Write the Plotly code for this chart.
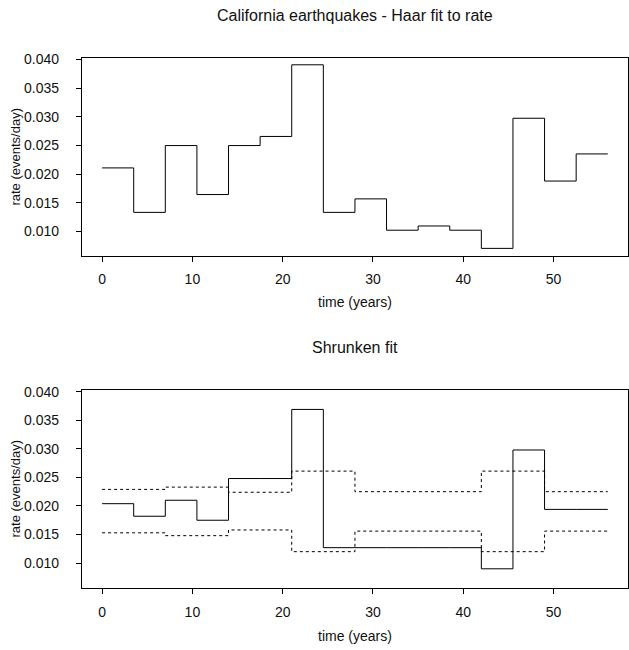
import plotly.graph_objects as go

# ---- data ----
breaks = [0, 3.5, 7, 10.5, 14, 17.5, 21, 24.5, 28, 31.5, 35, 38.5, 42, 45.5, 49, 52.5, 56]
haar_rate = [0.0211, 0.01335, 0.0250, 0.01646, 0.0250, 0.02659, 0.03908, 0.01335,
             0.0157, 0.01024, 0.01098, 0.01024, 0.00707, 0.02976, 0.01881, 0.02354]
shrunk_rate = [0.0204, 0.0182, 0.0210, 0.0175, 0.0248, 0.0248, 0.0369, 0.0127,
               0.0127, 0.0127, 0.0127, 0.0127, 0.0090, 0.0298, 0.0194, 0.0194]
upper_band = [0.0229, 0.0229, 0.0233, 0.0233, 0.0224, 0.0224, 0.0261, 0.0261,
              0.0225, 0.0225, 0.0225, 0.0225, 0.0261, 0.0261, 0.0225, 0.0225]
lower_band = [0.0153, 0.0153, 0.0148, 0.0148, 0.0158, 0.0158, 0.0120, 0.0120,
              0.0156, 0.0156, 0.0156, 0.0156, 0.0120, 0.0120, 0.0156, 0.0156]
x_ticks = [0, 10, 20, 30, 40, 50]
y_ticks = [0.010, 0.015, 0.020, 0.025, 0.030, 0.035, 0.040]
y_tick_text = ["0.010", "0.015", "0.020", "0.025", "0.030", "0.035", "0.040"]


def step(vals):
    return vals + [vals[-1]]


FONT = "Liberation Sans, Arial, Helvetica, sans-serif"
W, H = 629, 650

fig = go.Figure()
fig.add_trace(go.Scatter(x=breaks, y=step(haar_rate), mode="lines", line_shape="hv",
                         line=dict(color="black", width=1), xaxis="x", yaxis="y",
                         showlegend=False, hoverinfo="skip"))
fig.add_trace(go.Scatter(x=breaks, y=step(shrunk_rate), mode="lines", line_shape="hv",
                         line=dict(color="black", width=1), xaxis="x2", yaxis="y2",
                         showlegend=False, hoverinfo="skip"))
for band in (upper_band, lower_band):
    fig.add_trace(go.Scatter(x=breaks, y=step(band), mode="lines", line_shape="hv",
                             line=dict(color="black", width=1, dash="dot"), xaxis="x2", yaxis="y2",
                             showlegend=False, hoverinfo="skip"))

axis_common = dict(showline=True, linecolor="black", linewidth=1, mirror=True,
                   ticks="outside", ticklen=5, tickwidth=1, tickcolor="black",
                   showgrid=False, zeroline=False,
                   tickfont=dict(family=FONT, size=14, color="#111"))

x0 = 82 / W
d1 = [1 - 252 / H, 1 - 52 / H]
d2 = [1 - 587.3 / H, 1 - 387.3 / H]

fig.update_layout(
    width=W, height=H,
    margin=dict(l=0, r=0, t=0, b=0),
    paper_bgcolor="white", plot_bgcolor="white",
    xaxis=dict(domain=[x0, 1.0], range=[-2.24, 58.24], tickvals=x_ticks,
               anchor="y", ticklabelstandoff=6, **axis_common),
    yaxis=dict(domain=d1, range=[0.0058, 0.04035], tickvals=y_ticks, ticktext=y_tick_text,
               anchor="x", ticklabelstandoff=14, **axis_common),
    xaxis2=dict(domain=[x0, 1.0], range=[-2.24, 58.24], tickvals=x_ticks,
                anchor="y2", ticklabelstandoff=6, **axis_common),
    yaxis2=dict(domain=d2, range=[0.00566, 0.04035], tickvals=y_ticks, ticktext=y_tick_text,
                anchor="x2", ticklabelstandoff=14, **axis_common),
)

cx = (82 + 629) / 2 / W


def note(x, y, text, size, angle=0):
    fig.add_annotation(x=x, y=y, text=text, textangle=angle, xref="paper", yref="paper",
                       xanchor="center", yanchor="middle",
                       showarrow=False, font=dict(family=FONT, size=size, color="#111"))


note(cx, 1 - 10 / H, "California earthquakes - Haar fit to rate", 16)
note(cx, 1 - 345 / H, "Shrunken fit", 16)
note(cx, 1 - 299 / H, "time (years)", 14)
note(cx, 1 - 636 / H, "time (years)", 14)
note(16 / W, 1 - 152 / H, "rate (events/day)", 13, -90)
note(16 / W, 1 - 487 / H, "rate (events/day)", 13, -90)

fig.write_html("out.html")
